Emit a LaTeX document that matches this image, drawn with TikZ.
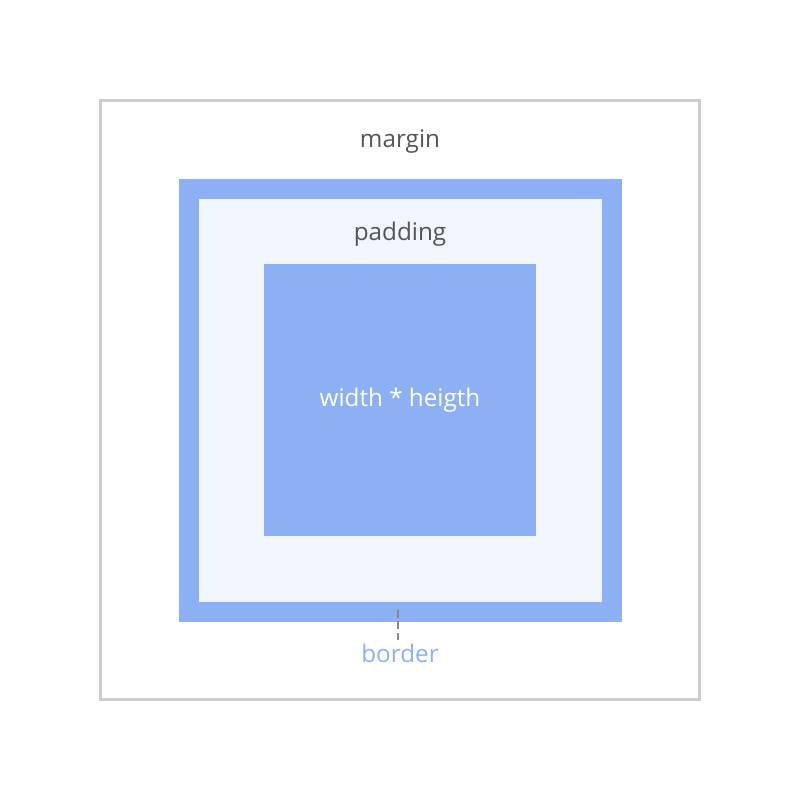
\documentclass[tikz,border=0pt]{standalone}
\usepackage{fontspec}
\setmainfont{Open Sans}
\definecolor{boxblue}{HTML}{8DB0F5}
\definecolor{padfill}{HTML}{F0F5FE}
\definecolor{edgegray}{HTML}{CCCCCC}
\definecolor{labelgray}{HTML}{555555}
\definecolor{tickgray}{HTML}{888888}
\begin{document}
\begin{tikzpicture}[x=0.75pt, y=-0.75pt,
	marginbox/.style={draw=edgegray, line width=2.25pt, inner sep=0pt,
		minimum size=449.25pt},
	borderbox/.style={draw=boxblue, fill=padfill, line width=15pt, inner sep=0pt,
		minimum size=317.25pt},
	contentbox/.style={fill=boxblue, inner sep=0pt, minimum size=204pt},
	label/.style={font=\fontsize{18.2}{21}\selectfont, text=labelgray,
		anchor=base, inner sep=0pt},
	tick/.style={draw=tickgray, line width=1.5pt, dash pattern=on 6pt off 2.5pt},
]
\useasboundingbox (0,0) rectangle (800,800);
\node[marginbox] (margin) at (400,400) {};
\node[borderbox] (border) at (400.5,400.5) {};
\node[contentbox] (content) at (400,400) {};
\node[label] (mlabel) at (400,147) {margin};
\node[label] (plabel) at (400,240) {padding};
\node[label, text=white] (clabel) at (400,406.5) {width * heigth};
\node[label, text=boxblue] (blabel) at (400,662) {border};
\coordinate (tick) at (398,610);
\coordinate (tickend) at (398,640);
\draw[tick] (tick) -- (tickend);
\end{tikzpicture}
\end{document}
